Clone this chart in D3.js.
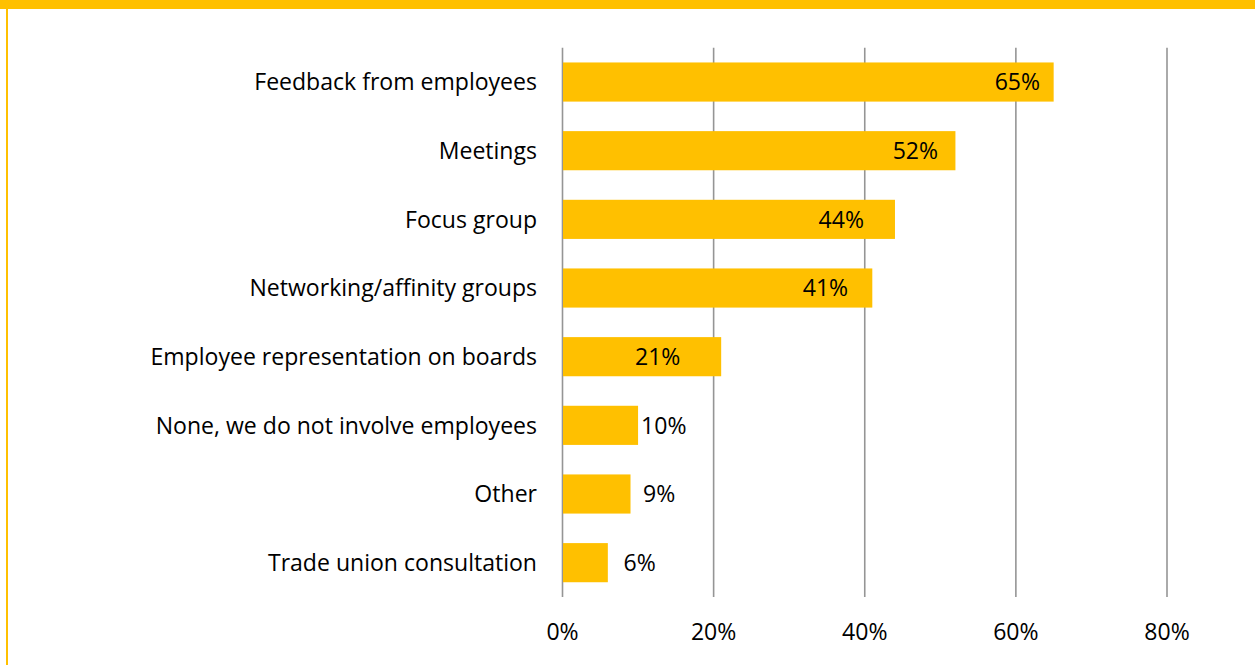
<!DOCTYPE html>
<html>
<head>
<meta charset="utf-8">
<script src="https://cdn.jsdelivr.net/npm/d3@7"></script>
<style>
  html, body { margin: 0; padding: 0; background: #fff; }
  svg { display: block; }
  text { font-family: "Open Sans", "Noto Sans", sans-serif; fill: #000; }
</style>
</head>
<body>
<svg id="chart" width="1255" height="665"></svg>
<script>
// Ways of involving employees – share of respondents
const categories = [
  "Feedback from employees",
  "Meetings",
  "Focus group",
  "Networking/affinity groups",
  "Employee representation on boards",
  "None, we do not involve employees",
  "Other",
  "Trade union consultation"
];
const values = [65, 52, 44, 41, 21, 10, 9, 6];
const tickValues = [0, 20, 40, 60, 80];
const tickLabels = ["0%", "20%", "40%", "60%", "80%"];

// Where each value label sits, expressed on the percentage axis (label centre)
const labelAt = [60.2, 46.7, 36.9, 34.8, 12.6, 13.4, 12.8, 10.2];

const W = 1255, H = 665;
const gold = "#FFC000";
const svg = d3.select("#chart");

// Frame: gold band along the top and a thin gold rule down the left
svg.append("rect").attr("x", 0).attr("y", 0).attr("width", W).attr("height", 9).attr("fill", gold);
svg.append("rect").attr("x", 6).attr("y", 9).attr("width", 2).attr("height", H - 9).attr("fill", gold);

const plot = { left: 562.5, right: 1167, top: 47.7, bottom: 597 };

const x = d3.scaleLinear().domain([0, 80]).range([plot.left, plot.right]);
const y = d3.scaleBand().domain(categories).range([plot.top, plot.bottom]).paddingInner(0.43).paddingOuter(0.215);

// Vertical gridlines
svg.append("g").selectAll("line").data(tickValues).join("line")
  .attr("x1", d => x(d)).attr("x2", d => x(d))
  .attr("y1", plot.top).attr("y2", plot.bottom)
  .attr("stroke", "#959595").attr("stroke-width", 1.6);

// Bars
svg.append("g").selectAll("rect").data(values).join("rect")
  .attr("x", x(0) + 0.5)
  .attr("y", (d, i) => y(categories[i]))
  .attr("width", d => x(d) - x(0) - 0.5)
  .attr("height", y.bandwidth())
  .attr("fill", gold);

// Fit category font size so the longest-looking label spans its measured width
const probe = svg.append("text").attr("font-size", 20).text("Feedback from employees");
const fs = 20 * 283 / probe.node().getComputedTextLength();
probe.remove();

// Category labels
svg.append("g").selectAll("text").data(categories).join("text")
  .attr("x", 537)
  .attr("y", d => y(d) + y.bandwidth() / 2)
  .attr("dy", "0.36em")
  .attr("text-anchor", "end")
  .attr("font-size", fs)
  .text(d => d);

// Value labels
svg.append("g").selectAll("text").data(values).join("text")
  .attr("x", (d, i) => x(labelAt[i]))
  .attr("y", (d, i) => y(categories[i]) + y.bandwidth() / 2)
  .attr("dy", "0.36em")
  .attr("text-anchor", "middle")
  .attr("font-size", fs)
  .text(d => d + "%");

// Axis tick labels along the bottom
svg.append("g").selectAll("text").data(tickValues).join("text")
  .attr("x", d => x(d))
  .attr("y", 640)
  .attr("text-anchor", "middle")
  .attr("font-size", fs)
  .text((d, i) => tickLabels[i]);
</script>
</body>
</html>
